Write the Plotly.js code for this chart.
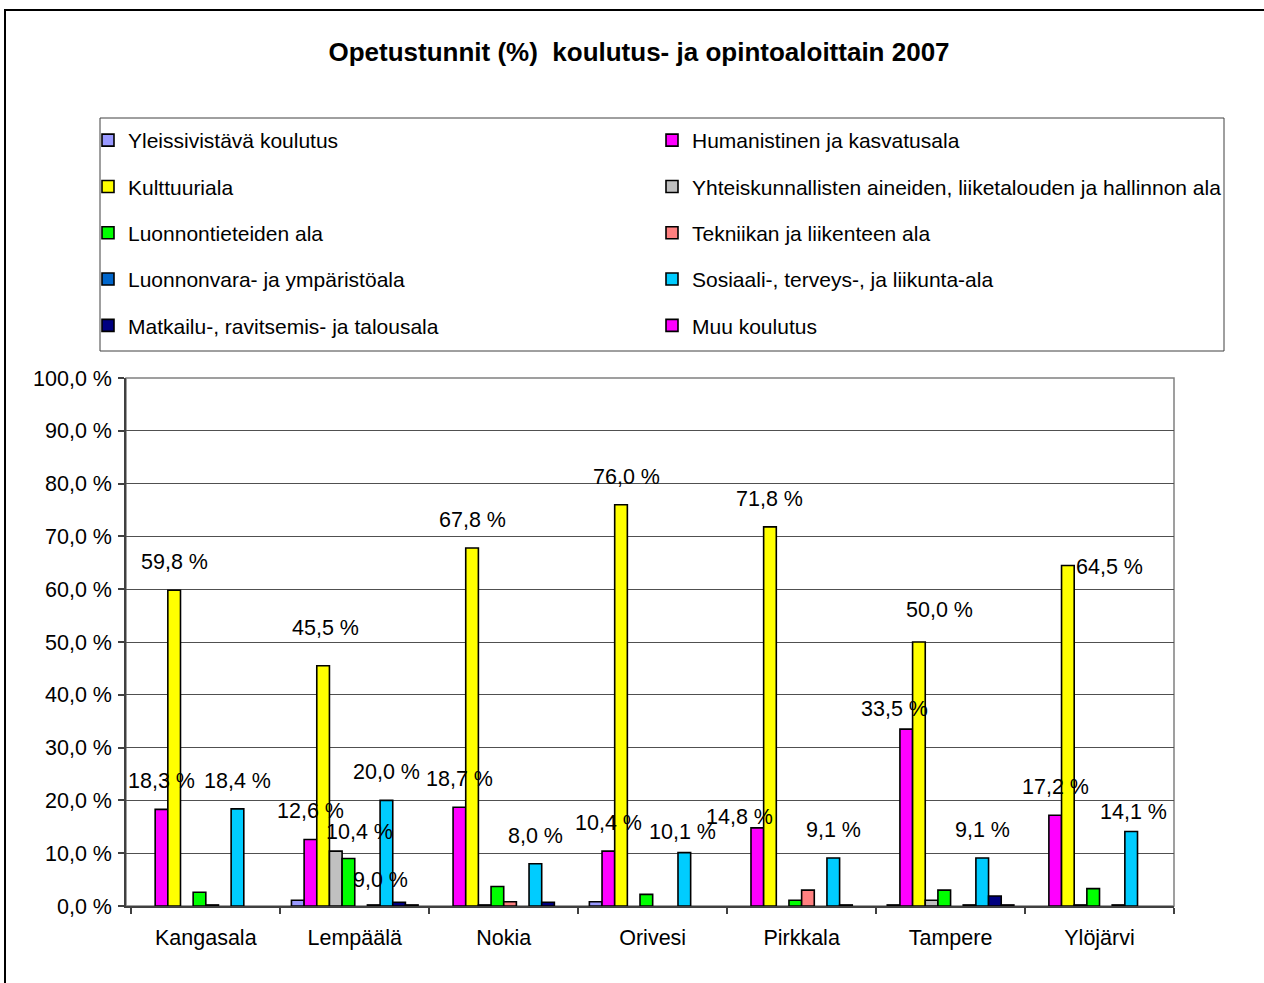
<!DOCTYPE html>
<html>
<head>
<meta charset="utf-8">
<script src="https://cdn.plot.ly/plotly-3.0.1.min.js"></script>
<style>html,body{margin:0;padding:0;background:#fff;}#chart{width:1264px;height:983px;}</style>
</head>
<body>
<div id="chart"></div>
<script>
// ---- data ----
const categories = ["Kangasala", "Lempäälä", "Nokia", "Orivesi", "Pirkkala", "Tampere", "Ylöjärvi"];
const seriesNames = [
  "Yleissivistävä koulutus",
  "Humanistinen ja kasvatusala",
  "Kulttuuriala",
  "Yhteiskunnallisten aineiden, liiketalouden ja hallinnon ala",
  "Luonnontieteiden ala",
  "Tekniikan ja liikenteen ala",
  "Luonnonvara- ja ympäristöala",
  "Sosiaali-, terveys-, ja liikunta-ala",
  "Matkailu-, ravitsemis- ja talousala",
  "Muu koulutus"
];
// values per series, in category order (null = no value in the source)
const yleissivistava   = [null, 1.1,  null, 0.8,  null, 0.2,  null];
const humanistinen     = [18.3, 12.6, 18.7, 10.4, 14.8, 33.5, 17.2];
const kulttuuri        = [59.8, 45.5, 67.8, 76.0, 71.8, 50.0, 64.5];
const yhteiskunnallinen= [null, 10.4, 0.2,  null, null, 1.1,  0.2];
const luonnontiede     = [2.6,  9.0,  3.7,  2.2,  1.1,  3.0,  3.3];
const tekniikka        = [0.2,  null, 0.8,  null, 3.0,  null, null];
const luonnonvara      = [null, 0.2,  null, null, null, 0.2,  0.2];
const sosiaali         = [18.4, 20.0, 8.0,  10.1, 9.1,  9.1,  14.1];
const matkailu         = [null, 0.7,  0.7,  null, 0.2,  1.9,  null];
const muu              = [null, 0.2,  null, null, null, 0.2,  null];
const seriesValues = [yleissivistava, humanistinen, kulttuuri, yhteiskunnallinen, luonnontiede,
                      tekniikka, luonnonvara, sosiaali, matkailu, muu];
const yTickValues = [0,10,20,30,40,50,60,70,80,90,100];

// ---- styles ----
const colors = ["#9999FF","#FF00FF","#FFFF00","#C0C0C0","#00FF00","#FF8080","#0066CC","#00CCFF","#000080","#FF00FF"];
const FONT = "Liberation Sans, Arial, sans-serif";
const TXT = 21.5;
const labelMin = 8;           // labels drawn for bars of at least this value (as in the original)
const labelLift = 28;         // px above bar top
// label nudges in screen pixels [dx, dy] (dy positive = down), to mimic original label placement
const labelNudge = {
  "Lempäälä|2": [2, -10],
  "Lempäälä|3": [24, 9],
  "Lempäälä|4": [32, 50],
  "Orivesi|2": [5, 0],
  "Orivesi|7": [-2, 7],
  "Pirkkala|1": [-18, 17],
  "Tampere|1": [-12, 8],
  "Tampere|2": [21, -4],
  "Ylöjärvi|2": [42, 30],
  "Ylöjärvi|7": [2, 8]
};

// plot-area pixel geometry
const W = 1264, Ht = 983;
const L = 126, R = 1174, T = 378, B = 906;
const px2x = p => (p - L) / (R - L);
const px2y = p => (B - p) / (B - T);

const bargap = 0.15;
const nS = seriesNames.length;
const slot = (1 - bargap) / nS;

const traces = seriesNames.map((name, i) => ({
  type: "bar",
  name: name,
  x: categories,
  y: seriesValues[i],
  marker: {color: colors[i], line: {color: "#000000", width: 1.6}},
  legend: (i % 2 === 0) ? "legend" : "legend2",
  legendgroup: "g" + i,
  hoverinfo: "x+y+name"
}));

const fmt = v => v.toFixed(1).replace(".", ",") + " %";
const annotations = [];
seriesValues.forEach((vals, i) => {
  vals.forEach((v, c) => {
    if (v !== null && v >= labelMin) {
      const n = labelNudge[categories[c] + "|" + i] || [0, 0];
      annotations.push({
        xref: "x", yref: "y",
        x: c + (i - (nS - 1) / 2) * slot,
        y: v,
        text: fmt(v),
        showarrow: false,
        xanchor: "center", yanchor: "middle",
        xshift: n[0], yshift: labelLift - n[1],
        font: {family: FONT, size: TXT, color: "#000"}
      });
    }
  });
});

const shapes = [
  // outer chart border
  {type: "rect", xref: "paper", yref: "paper", x0: px2x(5), y0: px2y(10), x1: px2x(1320), y1: px2y(1040),
   line: {color: "#000", width: 2}, fillcolor: "rgba(0,0,0,0)", layer: "below"},
  // legend box
  {type: "rect", xref: "paper", yref: "paper", x0: px2x(100), y0: px2y(118), x1: px2x(1224), y1: px2y(351),
   line: {color: "#404040", width: 1}, fillcolor: "rgba(0,0,0,0)", layer: "below"},
  // plot frame
  {type: "rect", xref: "paper", yref: "paper", x0: 0, y0: 0, x1: 1, y1: 1,
   line: {color: "#808080", width: 1.5}, fillcolor: "rgba(0,0,0,0)", layer: "below"}
];

const legendCommon = {
  orientation: "v",
  xanchor: "left", yanchor: "top",
  yref: "paper", xref: "paper",
  bgcolor: "rgba(0,0,0,0)",
  borderwidth: 0,
  font: {family: FONT, size: 21, color: "#000"},
  tracegroupgap: 16,
  itemclick: false, itemdoubleclick: false
};

const layout = {
  width: W, height: Ht,
  paper_bgcolor: "#ffffff",
  plot_bgcolor: "#ffffff",
  margin: {l: L, r: W - R, t: T, b: Ht - B, pad: 0},
  separators: ", ",
  font: {family: FONT, size: TXT, color: "#000"},
  title: {
    text: "<b>Opetustunnit (%)  koulutus- ja opintoaloittain 2007</b>",
    font: {family: FONT, size: 26, color: "#000"},
    xref: "container", yref: "container",
    x: 639 / W, y: 1 - 52 / Ht, xanchor: "center", yanchor: "middle"
  },
  barmode: "group",
  bargap: bargap,
  bargroupgap: 0,
  xaxis: {
    type: "category",
    showline: true, linecolor: "#404040", linewidth: 1.5,
    ticks: "outside", tickson: "boundaries", ticklen: 6, tickcolor: "#404040", tickwidth: 1.5,
    showgrid: false,
    tickfont: {family: FONT, size: TXT, color: "#000"},
    ticklabelstandoff: 11,
    fixedrange: true
  },
  yaxis: {
    range: [0, 100],
    tickmode: "array",
    tickvals: yTickValues,
    ticktext: yTickValues.map(fmt),
    showline: true, linecolor: "#404040", linewidth: 1.5,
    ticks: "outside", ticklen: 6, tickcolor: "#404040", tickwidth: 1.5,
    showgrid: true, gridcolor: "#505050", gridwidth: 1,
    zeroline: false,
    tickfont: {family: FONT, size: TXT, color: "#000"},
    ticklabelstandoff: 2,
    fixedrange: true
  },
  legend: Object.assign({}, legendCommon, {x: px2x(88), y: px2y(120)}),
  legend2: Object.assign({}, legendCommon, {x: px2x(652), y: px2y(120)}),
  shapes: shapes,
  annotations: annotations,
  showlegend: true
};

Plotly.newPlot("chart", traces, layout, {displayModeBar: false, responsive: false});
</script>
</body>
</html>
